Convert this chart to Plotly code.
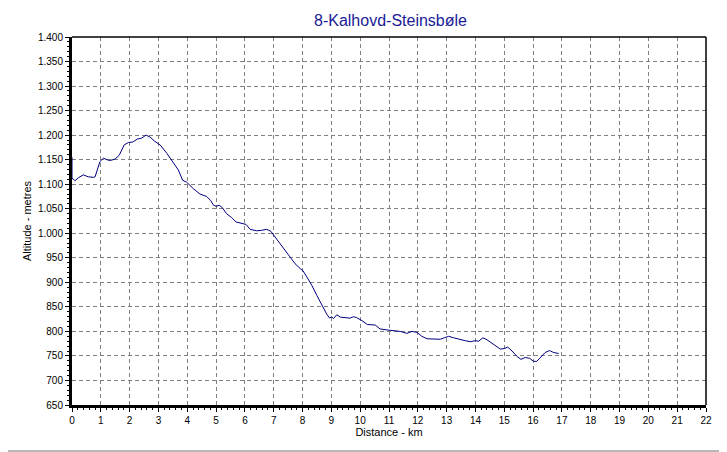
import plotly.graph_objects as go

# profile (km, metres)
distance = [0.0, 0.0, 0.02, 0.1, 0.22, 0.39, 0.57, 0.74, 0.8, 0.97, 1.09, 1.3, 1.49, 1.64,
            1.81, 1.96, 2.11, 2.27, 2.42, 2.57, 2.71, 2.88, 3.06, 3.29, 3.52, 3.69,
            3.84, 3.98, 4.21, 4.44, 4.67, 4.81, 4.91, 5.0, 5.11, 5.22, 5.36, 5.54, 5.69,
            5.89, 6.04, 6.18, 6.41, 6.58, 6.76, 6.9, 7.05, 7.22, 7.4, 7.57, 7.74,
            7.92, 8.01, 8.15, 8.32, 8.5, 8.67, 8.84, 8.94, 9.01, 9.07, 9.19, 9.31,
            9.54, 9.65, 9.77, 9.88, 10.06, 10.25, 10.52, 10.69, 10.93, 11.16, 11.39,
            11.62, 11.8, 11.97, 12.14, 12.32, 12.55, 12.78, 12.92, 13.07, 13.24,
            13.47, 13.65, 13.82, 13.99, 14.11, 14.26, 14.4, 14.63, 14.86, 15.0,
            15.12, 15.27, 15.44, 15.58, 15.73, 15.88, 16.02, 16.13, 16.25, 16.42,
            16.57, 16.71, 16.89]
altitude = [1155, 1110, 1112, 1107, 1113, 1119, 1115, 1114, 1115, 1146, 1153, 1148, 1151, 1159,
            1180, 1185, 1186, 1192, 1194, 1200, 1196, 1187, 1180, 1163, 1144, 1129,
            1108, 1104, 1091, 1080, 1075, 1067, 1057, 1055, 1057, 1052, 1040, 1032, 1023,
            1021, 1018, 1008, 1005, 1006, 1008, 1004, 992, 979, 965, 950, 938,
            928, 924, 911, 894, 873, 853, 835, 827, 830, 826, 834, 829,
            828, 827, 830, 828, 822, 814, 813, 805, 803, 801, 800,
            796, 800, 798, 790, 785, 784, 784, 787, 790, 787,
            783, 781, 779, 781, 780, 787, 783, 773, 764, 765,
            768, 760, 749, 743, 747, 745, 739, 739, 747, 757,
            761, 757, 755]

y_ticks = list(range(650, 1401, 50))
y_labels = ['{:,}'.format(v).replace(',', '.') for v in y_ticks]

fig = go.Figure()
fig.add_trace(go.Scatter(x=distance, y=altitude, mode='lines',
                         line=dict(color='#000080', width=1), hoverinfo='skip'))

# page body has an 8px margin, so the figure is a bit smaller than the window
fig.update_layout(
    width=719, height=444,
    margin=dict(l=64, r=21, t=29, b=47),
    paper_bgcolor='white', plot_bgcolor='white',
    showlegend=False,
    font=dict(family='Liberation Sans, Arial, sans-serif', size=10, color='black'),
    title=dict(text='8-Kalhovd-Steinsbøle', x=0.532, xanchor='center', y=0.972, yanchor='middle',
               font=dict(size=16, color='#1a1a96')),
    # window frame on right and bottom
    shapes=[
        dict(type='line', xref='paper', yref='paper', x0=1.0305, x1=1.0305, y0=-0.2, y1=1.2,
             line=dict(color='#a0a0a0', width=1.5)),
        dict(type='line', xref='paper', yref='paper', x0=-0.2, x1=1.1, y0=-0.125, y1=-0.125,
             line=dict(color='#a0a0a0', width=1.5)),
    ],
)

fig.update_xaxes(
    range=[0, 22], dtick=1, tick0=0,
    showgrid=True, gridcolor='#808080', griddash='4px,3px', gridwidth=1,
    ticks='outside', ticklen=4, tickcolor='black',
    minor=dict(dtick=0.2, ticks='outside', ticklen=2, tickcolor='black', showgrid=False),
    showline=True, linecolor='black', linewidth=3, mirror=False,
    zeroline=False,
    title=dict(text='Distance - km', standoff=4, font=dict(size=11)),
)
fig.update_yaxes(
    range=[650, 1400], tickvals=y_ticks, ticktext=y_labels,
    showgrid=True, gridcolor='#808080', griddash='4px,3px', gridwidth=1,
    ticks='outside', ticklen=4, tickcolor='black',
    minor=dict(dtick=10, ticks='outside', ticklen=2, tickcolor='black', showgrid=False),
    showline=True, linecolor='black', linewidth=3,
    zeroline=False,
    title=dict(text='Altitude - metres', standoff=5, font=dict(size=11)),
)

# thin top and right border
fig.add_shape(type='line', xref='paper', yref='paper', x0=0, x1=1, y0=1, y1=1,
              line=dict(color='black', width=1.5))
fig.add_shape(type='line', xref='paper', yref='paper', x0=1, x1=1, y0=0, y1=1,
              line=dict(color='black', width=1.5))

fig.write_html("out.html")
